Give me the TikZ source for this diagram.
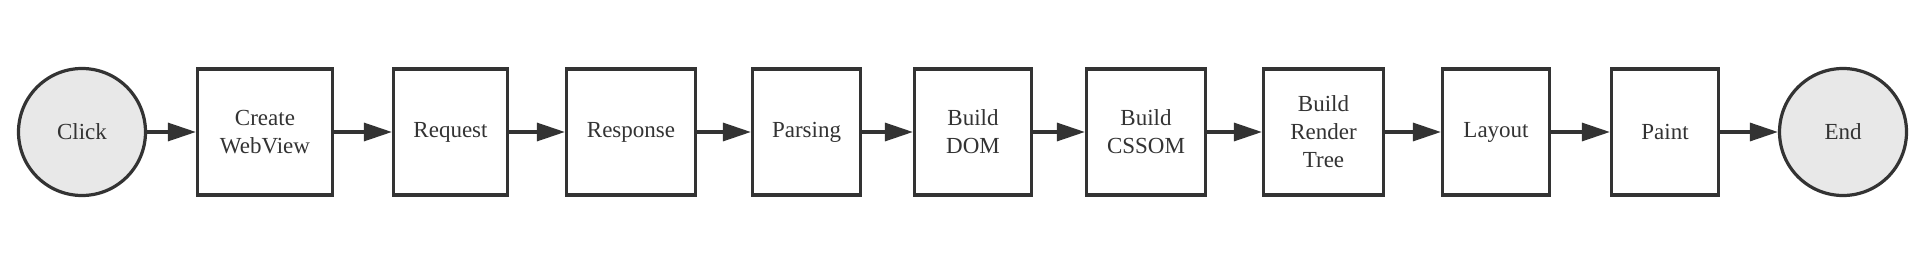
\documentclass[tikz,border=0pt]{standalone}
\usepackage{fontspec}
\setmainfont{Liberation Serif}
\newfontfamily\stagefont{Liberation Serif}
\usetikzlibrary{arrows.meta, positioning}
\definecolor{ink}{HTML}{333333}
\definecolor{endgray}{HTML}{E8E8E8}

\begin{document}
\begin{tikzpicture}[x=0.5pt, y=0.5pt,
  >={Triangle[length=14pt, width=9pt]},
  label text/.style={text=ink, font=\stagefont\fontsize{11.5}{14}\selectfont},
  stage/.style={draw=ink, line width=1.6pt, fill=white, rectangle, inner sep=0pt,
    minimum height=63pt, align=center, label text},
  terminal/.style={draw=ink, line width=1.6pt, fill=endgray, circle, inner sep=0pt,
    minimum size=63.5pt, label text},
  flow/.style={draw=ink, line width=1.6pt, ->}]

% Canvas
\useasboundingbox (0,0) rectangle (1920,268);

% Start and end
\node[terminal] (click) at (82,136) {Click};
\node[terminal] (end) at (1843,136) {End};

% Pipeline stages
\node[stage, minimum width=67.5pt] (create) at (265,136) {Create\\WebView};
\node[stage, minimum width=57pt] (request) at (450.5,136) {Request};
\node[stage, minimum width=64.5pt] (response) at (631,136) {Response};
\node[stage, minimum width=54pt] (parsing) at (806.5,136) {Parsing};
\node[stage, minimum width=58.5pt] (dom) at (973,136) {Build\\DOM};
\node[stage, minimum width=59.5pt] (cssom) at (1146,136) {Build\\CSSOM};
\node[stage, minimum width=60pt] (rtree) at (1323.5,136) {Build\\Render\\Tree};
\node[stage, minimum width=53.5pt] (layout) at (1496,136) {Layout};
\node[stage, minimum width=53.5pt] (paint) at (1665,136) {Paint};

% Arrows
\foreach \a/\b in {click/create, create/request, request/response,
  response/parsing, parsing/dom, dom/cssom, cssom/rtree,
  rtree/layout, layout/paint, paint/end} {
  \draw[flow] (\a) -- (\b);
}

\end{tikzpicture}
\end{document}
